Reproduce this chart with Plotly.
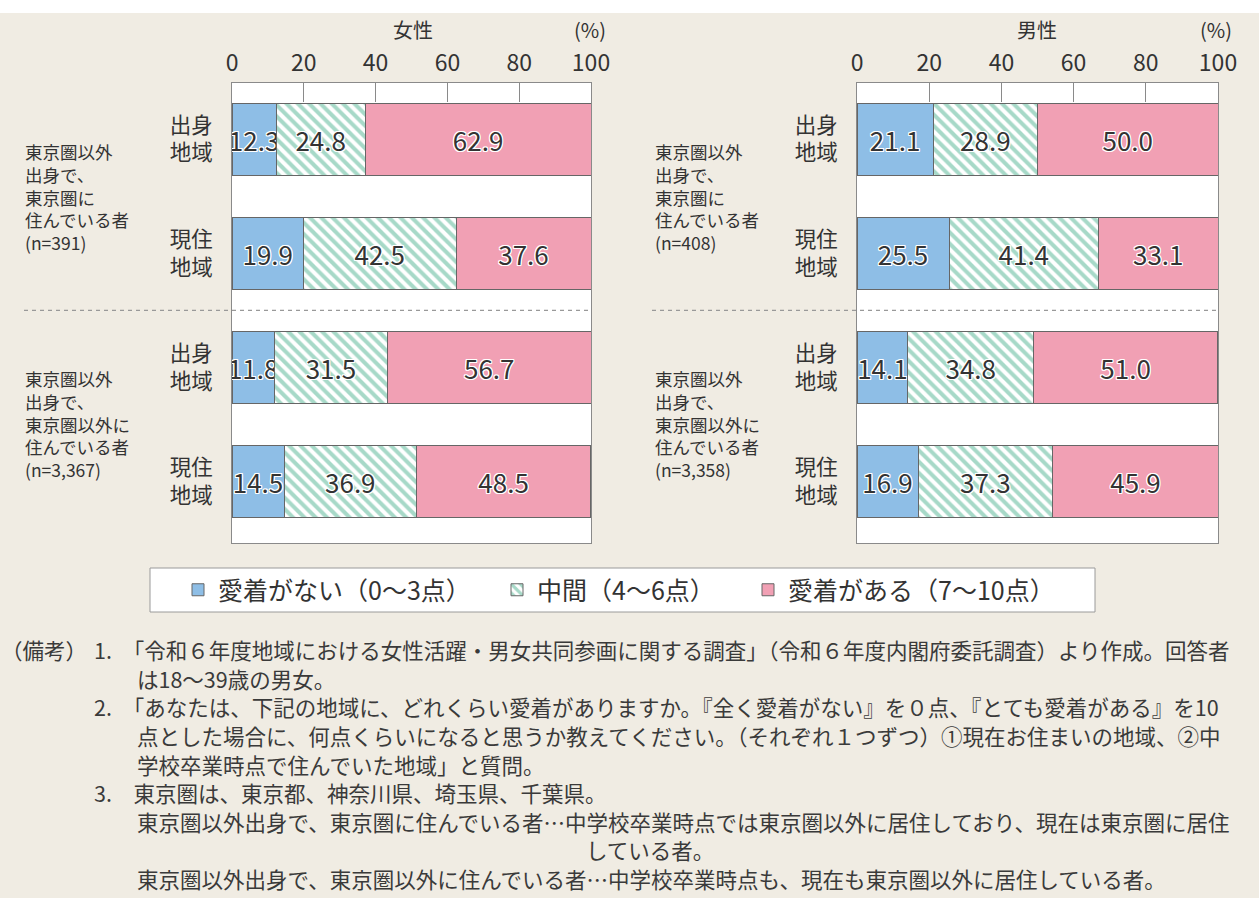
import plotly.graph_objects as go

W, H = 1259, 898

# ---------------- data ----------------
row_labels = ["出身<br>地域", "現住<br>地域", "出身<br>地域", "現住<br>地域"]
row_pos = [0, 1, 2, 3]
series_names = ["愛着がない（0～3点）", "中間（4～6点）", "愛着がある（7～10点）"]

female_none = [12.3, 19.9, 11.8, 14.5]
female_mid = [24.8, 42.5, 31.5, 36.9]
female_yes = [62.9, 37.6, 56.7, 48.5]

male_none = [21.1, 25.5, 14.1, 16.9]
male_mid = [28.9, 41.4, 34.8, 37.3]
male_yes = [50.0, 33.1, 51.0, 45.9]

panel_titles = ["女性", "男性"]
x_ticks = [0, 20, 40, 60, 80, 100]

female_groups = ["東京圏以外<br>出身で、<br>東京圏に<br>住んでいる者<br>(n=391)",
                 "東京圏以外<br>出身で、<br>東京圏以外に<br>住んでいる者<br>(n=3,367)"]
male_groups = ["東京圏以外<br>出身で、<br>東京圏に<br>住んでいる者<br>(n=408)",
               "東京圏以外<br>出身で、<br>東京圏以外に<br>住んでいる者<br>(n=3,358)"]

# ---------------- styles ----------------
FONT = "Noto Sans CJK JP"
BG = "#f0ece3"
TXT = "#333333"
BLUE = "#8ebee6"
PINK = "#f1a0b4"
GREEN = "#4fb391"
EDGE = "#666666"
HALO = ("white 1px 1px 0px, white -1px -1px 0px, white 1px -1px 0px, white -1px 1px 0px, "
        "white 0px 1px 0px, white 0px -1px 0px, white 1px 0px 0px, white -1px 0px 0px")


def px(x):
    return x / W


def py(y):
    return (H - y) / H


fig = go.Figure()

legend_ids = ["legend", "legend2", "legend3"]
panels = [
    ([female_none, female_mid, female_yes], "x", "y", True),
    ([male_none, male_mid, male_yes], "x2", "y2", False),
]

for vals, xa, ya, show in panels:
    for i, (name, v) in enumerate(zip(series_names, vals)):
        if i == 1:
            marker = dict(color="white", line=dict(color=EDGE, width=1),
                          pattern=dict(shape="\\", fgcolor=GREEN, bgcolor="white",
                                       size=8, solidity=0.5, fillmode="overlay"))
        else:
            marker = dict(color=BLUE if i == 0 else PINK, line=dict(color=EDGE, width=1))
        fig.add_trace(go.Bar(
            x=v, y=row_pos, orientation="h", name=name, marker=marker,
            width=0.63, xaxis=xa, yaxis=ya, showlegend=show, legend=legend_ids[i],
            texttemplate="%{x:.1f}", textposition="inside", insidetextanchor="middle",
            constraintext="none", textangle=0,
            textfont=dict(family=FONT, size=26, color=TXT, shadow=HALO),
            hoverinfo="skip",
        ))

xaxis_common = dict(range=[0, 100], side="top", tickvals=x_ticks, ticks="inside",
                    ticklen=19, tickcolor="#8a8a8a", tickwidth=1, showline=True,
                    linecolor="#8a8a8a", linewidth=1, mirror=True, showgrid=False,
                    zeroline=False, tickfont=dict(family=FONT, size=23, color=TXT),
                    ticklabelstandoff=2, fixedrange=True)
yaxis_common = dict(range=[3.535, -0.49], tickvals=row_pos, ticktext=row_labels,
                    ticks="", showline=True, linecolor="#8a8a8a", linewidth=1,
                    mirror=True, showgrid=False, zeroline=False,
                    tickfont=dict(family=FONT, size=21.5, color=TXT),
                    ticklabelstandoff=14, fixedrange=True)

leg_common = dict(orientation="h", yanchor="middle", y=py(590), xanchor="left",
                  bgcolor="rgba(0,0,0,0)", borderwidth=0,
                  font=dict(family=FONT, size=25, color=TXT), itemwidth=30)

ydom = [py(543), py(83)]
fig.update_layout(
    width=W, height=H,
    margin=dict(l=0, r=0, t=0, b=0, autoexpand=False),
    paper_bgcolor=BG, plot_bgcolor="white",
    barmode="stack",
    font=dict(family=FONT, color=TXT),
    xaxis=dict(domain=[px(232), px(591)], anchor="y", **xaxis_common),
    yaxis=dict(domain=ydom, anchor="x", **yaxis_common),
    xaxis2=dict(domain=[px(857), px(1218)], anchor="y2", **xaxis_common),
    yaxis2=dict(domain=ydom, anchor="x2", **yaxis_common),
    legend=dict(x=px(178), **leg_common),
    legend2=dict(x=px(497), **leg_common),
    legend3=dict(x=px(748), **leg_common),
)

shapes = [
    dict(type="rect", xref="paper", yref="paper", x0=0, x1=1, y0=py(13), y1=1,
         fillcolor="white", line=dict(width=0), layer="below"),
    dict(type="rect", xref="paper", yref="paper", x0=px(150), x1=px(1095),
         y0=py(612), y1=py(568), fillcolor="white",
         line=dict(color="#9a9a9a", width=1), layer="below"),
    dict(type="line", xref="paper", yref="y", x0=px(24), x1=px(591), y0=1.5, y1=1.5,
         line=dict(color="#999999", width=1.2, dash="4px,4px"), layer="above"),
    dict(type="line", xref="paper", yref="y2", x0=px(652), x1=px(1218), y0=1.5, y1=1.5,
         line=dict(color="#999999", width=1.2, dash="4px,4px"), layer="above"),
]
fig.update_layout(shapes=shapes)

ann = []
# panel titles and unit
for t, cx, ux in [(panel_titles[0], 413, 590), (panel_titles[1], 1037, 1216)]:
    ann.append(dict(text=t, x=px(cx), y=py(30), xref="paper", yref="paper",
                    xanchor="center", yanchor="middle", showarrow=False,
                    font=dict(family=FONT, size=20, color=TXT)))
    ann.append(dict(text="(%)", x=px(ux), y=py(30), xref="paper", yref="paper",
                    xanchor="center", yanchor="middle", showarrow=False,
                    font=dict(family=FONT, size=20, color=TXT)))

# group labels
for groups, gx in [(female_groups, 24), (male_groups, 654)]:
    for text, cy in zip(groups, [197, 424]):
        ann.append(dict(text=text, x=px(gx), y=py(cy), xref="paper", yref="paper",
                        xanchor="left", yanchor="middle", align="left", showarrow=False,
                        borderpad=0, font=dict(family=FONT, size=17.5, color=TXT)))

# footnotes
NOTE = dict(family=FONT, size=21.5, color="#3a3a3a")
notes = [
    (0, 649, "（備考）"),
    (93, 649, "1.\u3000「令和６年度地域における女性活躍・男女共同参画に関する調査」（令和６年度内閣府委託調査）より作成。回答者"),
    (136, 678, "は18～39歳の男女。"),
    (93, 706, "2.\u3000「あなたは、下記の地域に、どれくらい愛着がありますか。『全く愛着がない』を０点、『とても愛着がある』を10"),
    (136, 735, "点とした場合に、何点くらいになると思うか教えてください。（それぞれ１つずつ）①現在お住まいの地域、②中"),
    (136, 764, "学校卒業時点で住んでいた地域」と質問。"),
    (93, 792, "3.\u3000東京圏は、東京都、神奈川県、埼玉県、千葉県。"),
    (136, 821, "東京圏以外出身で、東京圏に住んでいる者…中学校卒業時点では東京圏以外に居住しており、現在は東京圏に居住"),
    (136, 878, "東京圏以外出身で、東京圏以外に住んでいる者…中学校卒業時点も、現在も東京圏以外に居住している者。"),
]
for x, y, t in notes:
    ann.append(dict(text=t, x=px(x), y=py(y), xref="paper", yref="paper",
                    xanchor="left", yanchor="middle", showarrow=False, borderpad=0,
                    font=NOTE))
ann.append(dict(text="している者。", x=px(650), y=py(849), xref="paper", yref="paper",
                xanchor="center", yanchor="middle", showarrow=False, borderpad=0, font=NOTE))

fig.update_layout(annotations=ann)

fig.write_html("out.html", config={"displayModeBar": False},
               post_script="document.body.style.margin='0px';document.body.style.overflow='hidden';")
